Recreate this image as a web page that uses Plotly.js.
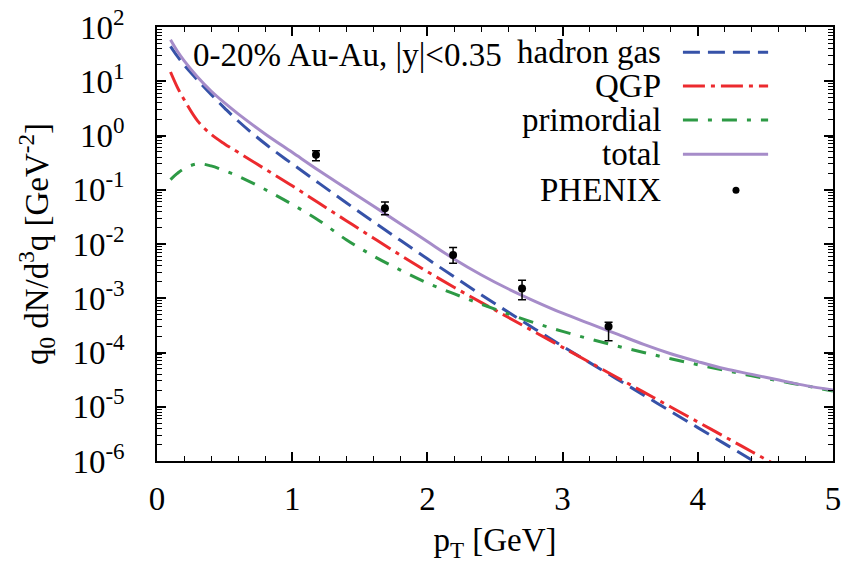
<!DOCTYPE html>
<html>
<head>
<meta charset="utf-8">
<script src="https://cdn.plot.ly/plotly-3.0.1.min.js"></script>
<style>html,body{margin:0;padding:0;background:#fff;}</style>
</head>
<body>
<div id="chart" style="width:848px;height:569px;"></div>
<script>
// hadron gas
var hgX = [0.1,0.15,0.2,0.3,0.4,0.5,0.6,0.8,1.0,1.2,1.4,1.6,1.8,2.0,2.2,2.4,2.6,2.8,3.0,3.2,3.4,3.6,3.8,4.0,4.2,4.4,4.5];
var hgY = [44,29,20,10.5,5.7,3.2,1.85,0.703,0.300,0.131,0.0577,0.0258,0.01167,0.00533,0.00246,0.00115,5.5e-4,2.66e-4,1.30e-4,6.5e-5,3.27e-5,1.64e-5,8.2e-6,4.12e-6,2.07e-6,1.04e-6,7.3e-7];
// QGP
var qgpX = [0.1,0.15,0.2,0.3,0.4,0.5,0.6,0.8,1.0,1.2,1.4,1.6,1.8,2.0,2.2,2.4,2.6,2.8,3.0,3.2,3.4,3.6,3.8,4.0,4.2,4.4,4.6];
var qgpY = [14.8,7.8,4.6,1.86,1.05,0.70,0.49,0.24,0.118,0.0562,0.0269,0.0129,0.00624,0.00309,0.00158,8.3e-4,4.42e-4,2.34e-4,1.245e-4,6.6e-5,3.5e-5,1.86e-5,9.9e-6,5.25e-6,2.79e-6,1.48e-6,7.85e-7];
// primordial
var primX = [0.1,0.15,0.2,0.3,0.4,0.5,0.6,0.8,1.0,1.2,1.4,1.6,1.8,2.0,2.2,2.4,2.6,2.8,3.0,3.2,3.4,3.6,3.8,4.0,4.2,4.4,4.6,4.8,5.0];
var primY = [0.154,0.2,0.245,0.30,0.275,0.224,0.178,0.101,0.0537,0.0269,0.0120,0.00603,0.00331,0.00191,0.0012,7.76e-4,5.13e-4,3.47e-4,2.45e-4,1.78e-4,1.32e-4,1.0e-4,7.67e-5,5.96e-5,4.68e-5,3.72e-5,2.99e-5,2.43e-5,1.95e-5];
// total
var totX = [0.1,0.15,0.2,0.3,0.4,0.5,0.6,0.8,1.0,1.2,1.4,1.6,1.8,2.0,2.2,2.4,2.6,2.8,3.0,3.2,3.4,3.6,3.8,4.0,4.2,4.4,4.6,4.8,5.0];
var totY = [58.3,36.1,24.0,12.0,6.6,3.98,2.51,1.07,0.49,0.224,0.106,0.050,0.0237,0.0111,0.00525,0.00269,0.00148,8.7e-4,5.3e-4,3.4e-4,2.2e-4,1.41e-4,9.5e-5,6.8e-5,5.0e-5,3.95e-5,3.1e-5,2.45e-5,2.04e-5];
// PHENIX data
var phX = [1.176,1.686,2.19,2.70,3.34];
var phY = [0.443,0.0455,0.0063,0.00152,3.0e-4];
var phErrPlus = [0.08,0.014,0.0023,0.00062,0.6e-4];
var phErrMinus = [0.10,0.011,0.0019,0.00058,1.35e-4];
// tick labels
var yTickVals = [1e-6,1e-5,1e-4,1e-3,1e-2,1e-1,1,10,100];
var yTickText = ['10<sup>-6</sup>','10<sup>-5</sup>','10<sup>-4</sup>','10<sup>-3</sup>','10<sup>-2</sup>','10<sup>-1</sup>','10<sup>0</sup>','10<sup>1</sup>','10<sup>2</sup>'];
var legendNames = ['hadron gas','QGP','primordial','total','PHENIX'];

var cBlue = '#3652a8', cRed = '#ec2a2e', cGreen = '#2d9a45', cPurple = '#a68cc9';
var dashBlue = '17px,8px', dashRed = '22px,6px,4px,6px', dashGreen = '15px,10px,4px,10px';

var traces = [
  {x: hgX, y: hgY, mode: 'lines', line: {color: cBlue, width: 3, dash: dashBlue, shape: 'spline'}, name: legendNames[0], showlegend: false},
  {x: qgpX, y: qgpY, mode: 'lines', line: {color: cRed, width: 3, dash: dashRed, shape: 'spline'}, name: legendNames[1], showlegend: false},
  {x: primX, y: primY, mode: 'lines', line: {color: cGreen, width: 3, dash: dashGreen, shape: 'spline'}, name: legendNames[2], showlegend: false},
  {x: totX, y: totY, mode: 'lines', line: {color: cPurple, width: 3, shape: 'spline'}, name: legendNames[3], showlegend: false},
  {x: phX, y: phY, mode: 'markers', marker: {color: 'black', size: 8}, name: legendNames[4], showlegend: false,
   error_y: {type: 'data', array: phErrPlus, arrayminus: phErrMinus, symmetric: false, color: 'black', thickness: 1.5, width: 4}}
];

var FONT = 'Liberation Serif';
var rowsY = [0.942, 0.864, 0.786, 0.707, 0.624];
var annotations = [
  {xref: 'paper', yref: 'paper', x: 0.05, y: 0.935, xanchor: 'left', yanchor: 'middle', showarrow: false,
   text: '0-20% Au-Au, |y|<0.35', font: {family: FONT, size: 33, color: 'black'}}
];
for (var i = 0; i < legendNames.length; i++) {
  annotations.push({xref: 'paper', yref: 'paper', x: 0.749, y: rowsY[i], xanchor: 'right', yanchor: 'middle',
    showarrow: false, text: legendNames[i], font: {family: FONT, size: 33, color: 'black'}});
}
var legColors = [cBlue, cRed, cGreen, cPurple];
var legDash = [dashBlue, dashRed, dashGreen, 'solid'];
var shapes = [];
for (var j = 0; j < 4; j++) {
  shapes.push({type: 'line', xref: 'paper', yref: 'paper', x0: 0.778, x1: 0.904, y0: rowsY[j], y1: rowsY[j],
    line: {color: legColors[j], width: 3, dash: legDash[j]}});
}
shapes.push({type: 'circle', xref: 'paper', yref: 'paper', xsizemode: 'pixel', ysizemode: 'pixel',
  xanchor: 0.8565, yanchor: rowsY[4], x0: -3.5, x1: 3.5, y0: -3.5, y1: 3.5,
  fillcolor: 'black', line: {color: 'black', width: 0}});

var layout = {
  width: 848, height: 569,
  margin: {l: 157, r: 15, t: 27, b: 108},
  paper_bgcolor: 'white', plot_bgcolor: 'white',
  font: {family: FONT, size: 32, color: 'black'},
  showlegend: false,
  xaxis: {
    range: [0, 5], dtick: 1, tick0: 0, ticks: 'inside', ticklen: 9, tickwidth: 1.5, tickcolor: 'black',
    mirror: 'allticks', showline: true, linewidth: 1.5, linecolor: 'black', showgrid: false, zeroline: false,
    minor: {ticks: 'inside', ticklen: 5, dtick: 0.2, tickwidth: 1.2, tickcolor: 'black', showgrid: false},
    tickfont: {family: FONT, size: 33}, ticklabelstandoff: 8,
    title: {text: 'p<sub>T</sub> [GeV]', font: {family: FONT, size: 33}, standoff: 12}
  },
  yaxis: {
    type: 'log', range: [-6, 2], tickmode: 'array', tickvals: yTickVals, ticktext: yTickText,
    ticks: 'inside', ticklen: 9, tickwidth: 1.5, tickcolor: 'black',
    mirror: 'allticks', showline: true, linewidth: 1.5, linecolor: 'black', showgrid: false, zeroline: false,
    minor: {ticks: 'inside', ticklen: 5, tickmode: 'linear', dtick: 'D1', tickwidth: 1.2, tickcolor: 'black', showgrid: false},
    tickfont: {family: FONT, size: 33}, ticklabelstandoff: 24,
    title: {text: 'q<sub>0</sub> dN/d<sup>3</sup>q [GeV<sup>-2</sup>]', font: {family: FONT, size: 33}, standoff: 14}
  },
  annotations: annotations,
  shapes: shapes
};

Plotly.newPlot('chart', traces, layout, {displayModeBar: false});
</script>
</body>
</html>
